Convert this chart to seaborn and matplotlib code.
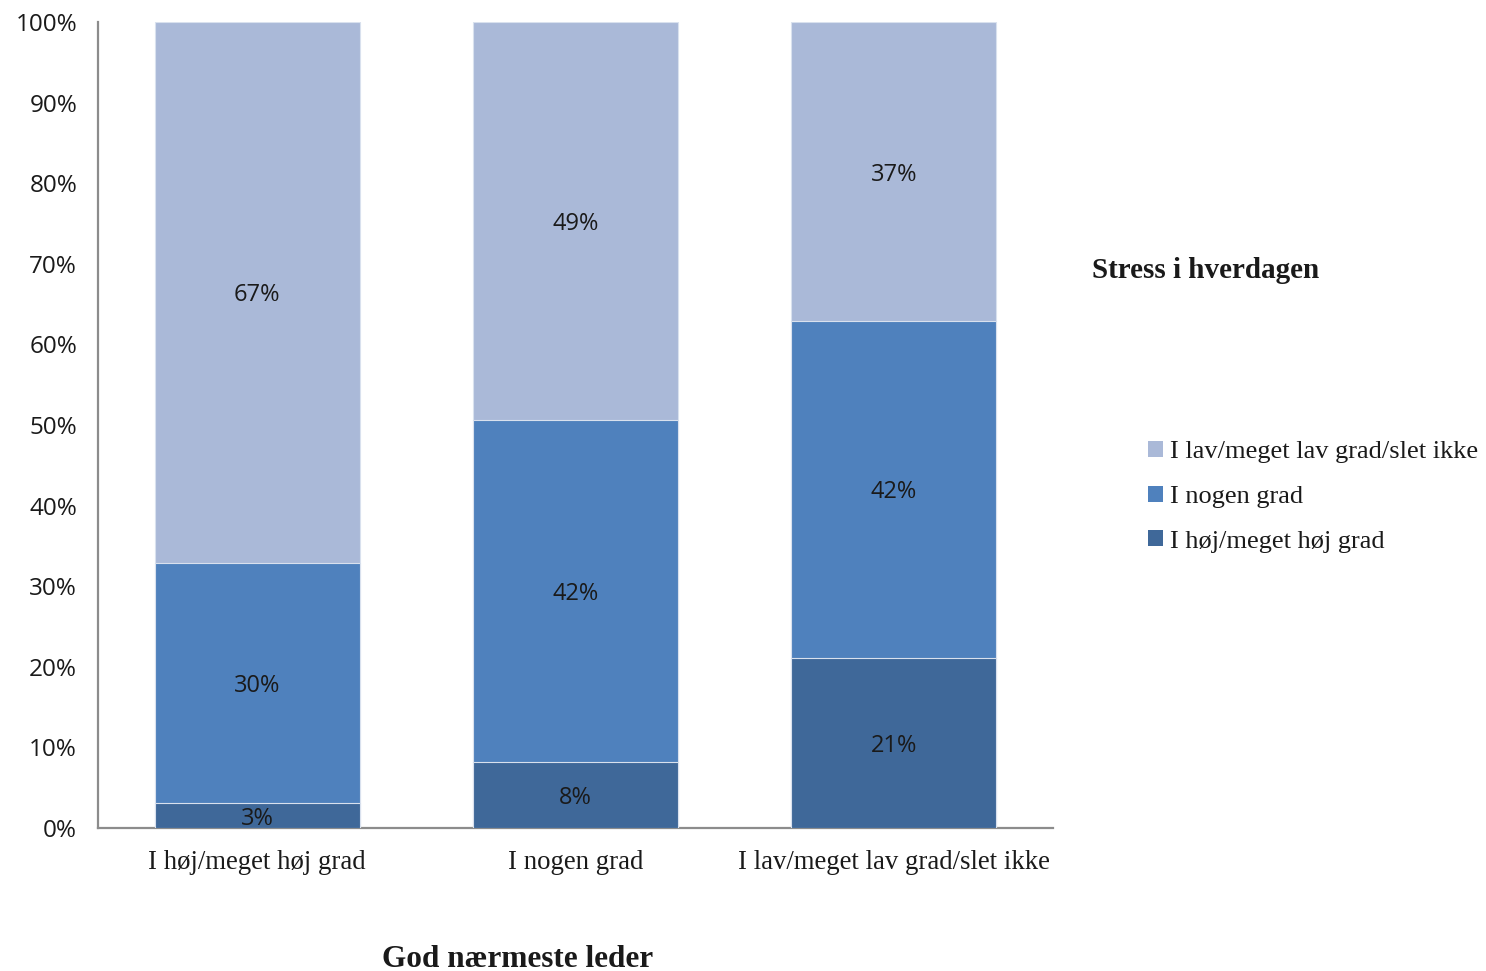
import numpy as np
import pandas as pd
import matplotlib
matplotlib.use("Agg")
import matplotlib.pyplot as plt
from matplotlib.patches import Patch
import seaborn as sns

categories = ["I høj/meget høj grad", "I nogen grad", "I lav/meget lav grad/slet ikke"]
series_names = ["I høj/meget høj grad", "I nogen grad", "I lav/meget lav grad/slet ikke"]
hoj = [3.1, 8.2, 21.1]
nogen = [29.8, 42.4, 41.8]
lav = [67.1, 49.4, 37.1]
yticks = [0, 10, 20, 30, 40, 50, 60, 70, 80, 90, 100]
colors = ["#3F6899", "#4F81BD", "#AAB9D8"]

sns.set_theme(style="white")
fig = plt.figure(figsize=(14.86, 9.71), dpi=100)
ax = fig.add_axes([98 / 1486, 1 - 828 / 971, (1053 - 98) / 1486, (828 - 22) / 971])

series = [hoj, nogen, lav]
cum = np.cumsum(np.array(series), axis=0)
# draw tallest first so that lower segments overlay
for i in reversed(range(3)):
    df = pd.DataFrame({"cat": categories, "val": cum[i]})
    sns.barplot(data=df, x="cat", y="val", color=colors[i], saturation=1,
                width=0.645, edgecolor="#D9E1EE", linewidth=0.8, ax=ax, zorder=2 + (2 - i))

bottoms = np.vstack([np.zeros(3), cum[:-1]])
for i in range(3):
    for j in range(3):
        v = series[i][j]
        ax.text(j, bottoms[i][j] + v / 2, f"{v:.0f}%", ha="center", va="center_baseline",
                fontsize=17, family="Open Sans", color="#1a1a1a", zorder=10)

ax.set_ylim(0, 100)
ax.set_xlim(-0.5, 2.5)
ax.set_yticks(yticks)
ax.set_yticklabels([f"{t}%" for t in yticks], fontsize=17.5, family="Open Sans", color="#1a1a1a")
ax.set_xticks(range(3))
ax.set_xticklabels(categories, fontsize=19.3, family="Liberation Serif", color="#1a1a1a")
ax.tick_params(axis="both", length=0)
ax.tick_params(axis="y", pad=15)
ax.tick_params(axis="x", pad=16)
ax.set_xlabel("")
ax.set_ylabel("")
for s in ["top", "right"]:
    ax.spines[s].set_visible(False)
for s in ["left", "bottom"]:
    ax.spines[s].set_color("#8C8C8C")
    ax.spines[s].set_linewidth(1.6)

fig.text(518 / 1486, 1 - 959 / 971, "God nærmeste leder", ha="center", va="center",
         fontsize=22.5, fontweight="bold", family="Liberation Serif", color="#1a1a1a")
fig.text(1092 / 1486, 1 - 270 / 971, "Stress i hverdagen", ha="left", va="center",
         fontsize=21, fontweight="bold", family="Liberation Serif", color="#1a1a1a")

handles = [Patch(facecolor=colors[i], edgecolor="none", label=series_names[i]) for i in [2, 1, 0]]
leg = fig.legend(handles=handles, loc="upper left", bbox_to_anchor=(1148 / 1486, 1 - 441 / 971),
                 frameon=False, prop={"family": "Liberation Serif", "size": 19},
                 handlelength=0.55, handleheight=0.55, handletextpad=0.3, labelspacing=0.85,
                 borderaxespad=0, borderpad=0)
for t in leg.get_texts():
    t.set_color("#1a1a1a")

fig.savefig("out.png", dpi=100)
